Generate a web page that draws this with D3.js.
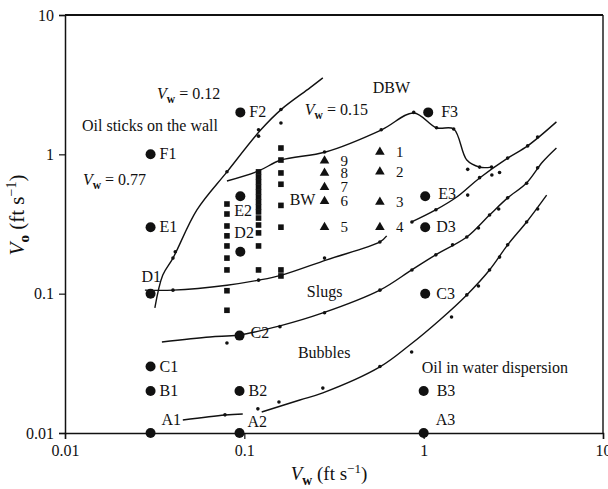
<!DOCTYPE html>
<html>
<head>
<meta charset="utf-8">
<script src="https://cdn.jsdelivr.net/npm/d3@7"></script>
<style>
  body { margin: 0; background: #fff; }
  svg text { font-family: "Liberation Serif", "DejaVu Serif", serif; fill: #111; }
  .curva { fill: none; stroke: #111; stroke-width: 1.4; }
</style>
</head>
<body>
<svg id="canvas" width="608" height="489"></svg>
<script>
// Puntos grandes con etiqueta (regimen observado)
const etiquetas = ["A1", "B1", "C1", "D1", "E1", "F1", "A2", "B2", "C2", "D2", "E2", "F2", "A3", "B3", "C3", "D3", "E3", "F3"];
const puntosVw = [0.03, 0.03, 0.03, 0.03, 0.03, 0.03, 0.094, 0.094, 0.094, 0.095, 0.095, 0.095, 1.0, 1.0, 1.02, 1.02, 1.02, 1.06];
const puntosVo = [0.01, 0.02, 0.03, 0.1, 0.3, 1.0, 0.01, 0.02, 0.05, 0.2, 0.5, 2.0, 0.01, 0.02, 0.1, 0.3, 0.5, 2.0];

// Columnas de cuadrados (BW)
const cuadradosVw = [0.08, 0.12, 0.16];
const cuadradosVo = [
  [0.44, 0.373, 0.306, 0.26, 0.22, 0.18, 0.148, 0.105, 0.076],
  [0.748, 0.688, 0.634, 0.583, 0.537, 0.494, 0.455, 0.419, 0.386, 0.349, 0.311, 0.273, 0.22, 0.148],
  [1.11, 0.91, 0.735, 0.61, 0.43, 0.30, 0.148, 0.134]
];

// Triangulos numerados 1..9
const triangulosNum = ["1", "2", "3", "4", "5", "6", "7", "8", "9"];
const triangulosVw = [0.57, 0.57, 0.57, 0.57, 0.28, 0.28, 0.28, 0.28, 0.28];
const triangulosVo = [1.04, 0.75, 0.455, 0.30, 0.30, 0.46, 0.58, 0.735, 0.9];

// Curvas frontera [Vw, Vo]
const curvaA = [[0.0454, 0.0124], [0.078, 0.01347], [0.098, 0.0137]];
const curvaB = [[0.125, 0.01415], [0.204, 0.01725], [0.274, 0.0194], [0.57, 0.0298], [0.836, 0.0428], [1.23, 0.0648], [1.74, 0.098], [2.33, 0.148], [2.94, 0.224], [3.75, 0.327], [4.85, 0.51]];
const curvaC = [[0.0347, 0.045], [0.0643, 0.0489], [0.093, 0.0505], [0.158, 0.0587], [0.274, 0.0727], [0.57, 0.106], [0.857, 0.148], [1.166, 0.19], [1.74, 0.255], [2.33, 0.367], [2.94, 0.487], [3.75, 0.623], [4.6, 0.88], [5.5, 1.11]];
const curvaD = [[0.0279, 0.106], [0.04, 0.106], [0.08, 0.115], [0.12, 0.125], [0.162, 0.136], [0.288, 0.175], [0.57, 0.235], [0.622, 0.26]];
const curvaE = [[0.857, 0.327], [1.166, 0.399], [1.53, 0.494], [2.05, 0.677], [2.94, 0.94], [3.8, 1.15], [5.5, 1.71]];
const curvaF = [[0.0317, 0.079], [0.0351, 0.136], [0.04, 0.18], [0.0544, 0.399], [0.08, 0.748], [0.1236, 1.5], [0.162, 2.12], [0.232, 3.0], [0.274, 3.54]];
const curvaG = [[0.08, 0.644], [0.12, 0.76], [0.16, 0.91], [0.284, 1.04], [0.583, 1.5], [0.88, 1.98], [1.18, 1.55], [1.47, 1.52], [1.74, 0.91], [2.05, 0.81], [2.39, 0.81]];

// Puntos experimentales pequenos
const puntitos = [
  [0.04, 0.18], [0.0412, 0.2], [0.08, 0.75], [0.12, 1.5], [0.12, 1.35], [0.16, 2.1], [0.16, 1.68],
  [0.04, 0.106], [0.12, 0.125], [0.28, 0.18], [0.57, 0.235],
  [0.08, 0.0443], [0.158, 0.058], [0.28, 0.073], [0.57, 0.106], [0.86, 0.148], [1.17, 0.19], [1.45, 0.224],
  [1.74, 0.255], [2.02, 0.296], [2.33, 0.367], [2.62, 0.405], [2.94, 0.487], [3.75, 0.62], [4.32, 0.8],
  [0.86, 0.327], [1.17, 0.4], [1.76, 0.51], [2.05, 0.68], [2.4, 0.71], [2.65, 0.74], [2.94, 0.94], [3.8, 1.15], [4.32, 1.33],
  [0.28, 1.04], [0.58, 1.5], [0.88, 2.0], [1.18, 1.55], [1.47, 1.52], [1.76, 0.78], [2.05, 0.81], [2.39, 0.81],
  [0.119, 0.0149], [0.156, 0.0167], [0.274, 0.021], [0.57, 0.03], [0.857, 0.0381], [1.43, 0.068], [1.74, 0.098],
  [2.02, 0.1136], [2.33, 0.148], [2.65, 0.183], [2.94, 0.224], [3.75, 0.327], [4.32, 0.405],
  [0.078, 0.0135]
];

// Textos de regiones [texto, Vw, Vo]
const regiones = [
  ["Oil sticks on the wall", 0.01244, 1.60],
  ["DBW", 0.52, 2.99],
  ["BW", 0.179, 0.47],
  ["Slugs", 0.223, 0.103],
  ["Bubbles", 0.199, 0.0375],
  ["Oil in water dispersion", 0.975, 0.0293]
];
const velocidades = [["0.12", 0.0326, 2.71], ["0.15", 0.2173, 2.08], ["0.77", 0.0126, 0.654]];

const ticksMayores = [0.01, 0.1, 1, 10];
const etiquetasTicks = ["0.01", "0.1", "1", "10"];

// Desplazamiento de etiquetas de los puntos grandes (pixeles)
const desplaza = {
  D1: [-9, -12], E2: [-6, 20], D2: [-6, -14], A1: [11, -8], A2: [8, -6], A3: [12, -8],
  C2: [11, 2], F3: [13, 5], E3: [13, 3], D3: [11, 5], C3: [11, 5], B3: [13, 5]
};

const svg = d3.select("#canvas");
const x = d3.scaleLog().domain([0.01, 10]).range([65, 603]);
const y = d3.scaleLog().domain([0.01, 10]).range([433, 15]);

const menores = [];
for (let d = 0.01; d < 10; d *= 10) {
  for (let k = 2; k <= 9; k++) menores.push(d * k);
}

// Ejes
const ejeX = svg.append("g").attr("transform", "translate(0,433)");
ejeX.call(d3.axisBottom(x).tickValues(menores).tickSize(4).tickFormat(""));
ejeX.call(d3.axisBottom(x).tickValues(ticksMayores).tickSize(6).tickPadding(6)
  .tickFormat((d, i) => etiquetasTicks[i]));
const ejeY = svg.append("g").attr("transform", "translate(65,0)");
ejeY.call(d3.axisLeft(y).tickValues(menores).tickSize(4).tickFormat(""));
ejeY.call(d3.axisLeft(y).tickValues(ticksMayores).tickSize(6).tickPadding(5)
  .tickFormat((d, i) => etiquetasTicks[i]));
svg.selectAll(".tick text").attr("font-size", 16).attr("font-family", "Liberation Serif");
svg.selectAll(".domain").attr("stroke", "#111").attr("stroke-width", 1.5);
svg.selectAll(".tick line").attr("stroke", "#111").attr("stroke-width", 1.2);

// Marco superior y derecho
svg.append("line").attr("x1", 65).attr("y1", y(10)).attr("x2", x(10)).attr("y2", y(10))
  .attr("stroke", "#111").attr("stroke-width", 2.2);
svg.append("line").attr("x1", x(10)).attr("y1", y(10)).attr("x2", x(10)).attr("y2", 433)
  .attr("stroke", "#111").attr("stroke-width", 1.4);

// Curvas
const linea = d3.line().x(d => x(d[0])).y(d => y(d[1])).curve(d3.curveCatmullRom.alpha(0.5));
[curvaA, curvaB, curvaC, curvaD, curvaE, curvaF, curvaG].forEach(c => {
  svg.append("path").attr("class", "curva").attr("d", linea(c));
});

// Puntos pequenos
svg.selectAll("circle.puntito").data(puntitos).join("circle")
  .attr("class", "puntito")
  .attr("cx", d => x(d[0])).attr("cy", d => y(d[1])).attr("r", 1.8).attr("fill", "#111");

// Cuadrados
cuadradosVw.forEach((vw, i) => {
  svg.selectAll(null).data(cuadradosVo[i]).join("rect")
    .attr("x", x(vw) - 2.8).attr("y", d => y(d) - 2.8)
    .attr("width", 5.6).attr("height", 5.6).attr("fill", "#111");
});

// Triangulos
const tri = d3.symbol().type(d3.symbolTriangle).size(40);
triangulosNum.forEach((n, i) => {
  svg.append("path").attr("d", tri())
    .attr("transform", `translate(${x(triangulosVw[i])},${y(triangulosVo[i])})`)
    .attr("fill", "#111");
  svg.append("text")
    .attr("x", x(triangulosVw[i]) + 16).attr("y", y(triangulosVo[i]) + 5)
    .attr("font-size", 15).text(n);
});

// Puntos grandes
etiquetas.forEach((et, i) => {
  const cx = x(puntosVw[i]), cy = y(puntosVo[i]);
  svg.append("circle").attr("cx", cx).attr("cy", cy).attr("r", 5).attr("fill", "#111");
  const dd = desplaza[et] || [9, 5];
  svg.append("text").attr("x", cx + dd[0]).attr("y", cy + dd[1]).attr("font-size", 16).text(et);
});

// Textos de regiones
regiones.forEach(r => {
  svg.append("text").attr("x", x(r[1])).attr("y", y(r[2]) + 5).attr("font-size", 16).text(r[0]);
});

// V con subindice
function textoV(t, sub, resto, tam) {
  t.append("tspan").attr("font-style", "italic").text("V");
  t.append("tspan").attr("font-size", tam * 0.72).attr("dy", tam * 0.25).attr("font-weight", "bold").text(sub);
  t.append("tspan").attr("dy", -tam * 0.25).text(resto);
}

velocidades.forEach(v => {
  const t = svg.append("text").attr("x", x(v[1])).attr("y", y(v[2]) + 5).attr("font-size", 16);
  textoV(t, "w", " = " + v[0], 16);
});

// Titulos de ejes
const tx = svg.append("text").attr("x", 329).attr("y", 480).attr("font-size", 19).attr("text-anchor", "middle");
textoV(tx, "w", " (ft s", 19);
tx.append("tspan").attr("font-size", 13).attr("dy", -7).text("\u22121");
tx.append("tspan").attr("dy", 7).text(")");

const ty = svg.append("text").attr("transform", "translate(24,215) rotate(-90)")
  .attr("font-size", 21).attr("text-anchor", "middle");
textoV(ty, "o", " (ft s", 21);
ty.append("tspan").attr("font-size", 14).attr("dy", -8).text("\u22121");
ty.append("tspan").attr("dy", 8).text(")");
</script>
</body>
</html>
